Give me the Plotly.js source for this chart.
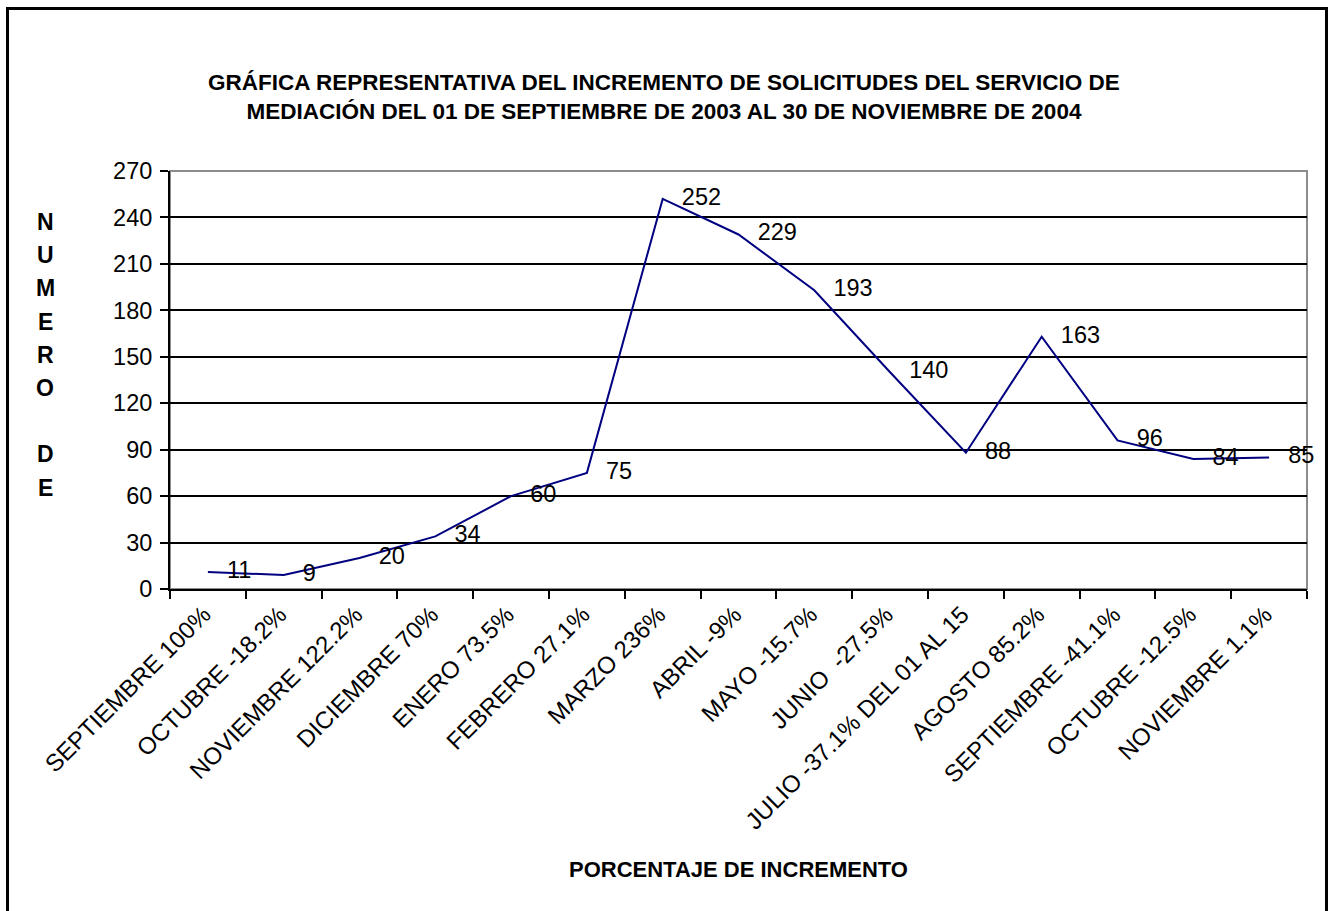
<!DOCTYPE html>
<html>
<head>
<meta charset="utf-8">
<script src="https://cdn.plot.ly/plotly-3.0.1.min.js"></script>
<style>
  html, body { margin: 0; padding: 0; background: #ffffff; }
  #wrap { position: relative; width: 1328px; height: 911px; overflow: hidden; }
  #chart { width: 1328px; height: 911px; }
  #frame { position: absolute; left: 6px; top: 7px; width: 1322px; height: 920px;
           border: 3px solid #000; pointer-events: none; box-sizing: border-box; }
</style>
</head>
<body>
<div id="wrap">
  <div id="chart"></div>
  <div id="frame"></div>
</div>
<script>
const categories = [
  'SEPTIEMBRE 100%', 'OCTUBRE -18.2%', 'NOVIEMBRE 122.2%', 'DICIEMBRE 70%',
  'ENERO 73.5%', 'FEBRERO 27.1%', 'MARZO 236%', 'ABRIL -9%', 'MAYO -15.7%',
  'JUNIO  -27.5%', 'JULIO -37.1% DEL 01 AL 15', 'AGOSTO 85.2%',
  'SEPTIEMBRE -41.1%', 'OCTUBRE -12.5%', 'NOVIEMBRE 1.1%'
];
const solicitudes = [11, 9, 20, 34, 60, 75, 252, 229, 193, 140, 88, 163, 96, 84, 85];
const yTicks = [0, 30, 60, 90, 120, 150, 180, 210, 240, 270];

const titleLines = [
  'GRÁFICA REPRESENTATIVA DEL INCREMENTO DE SOLICITUDES DEL SERVICIO DE',
  'MEDIACIÓN DEL 01 DE SEPTIEMBRE DE 2003 AL 30 DE NOVIEMBRE DE 2004'
];
const yTitleLetters = ['N', 'U', 'M', 'E', 'R', 'O', '', 'D', 'E'];
const xTitle = 'PORCENTAJE DE INCREMENTO';

const FONT = 'Liberation Sans, Arial, Helvetica, sans-serif';
const W = 1328, H = 911;
const M = { l: 170, r: 21, t: 171, b: 322 };
const plotH = H - M.t - M.b;
const plotW = W - M.l - M.r;

const annotations = [];
yTitleLetters.forEach((ch, i) => {
  if (!ch) return;
  const py = 222 + i * 33.2;  // pixel row of the letter centre
  annotations.push({
    text: '<b>' + ch + '</b>', xref: 'paper', yref: 'paper',
    x: (45 - M.l) / plotW, y: (H - M.b - py) / plotH,
    xanchor: 'center', yanchor: 'middle', showarrow: false,
    font: { family: FONT, size: 23, color: '#000' }
  });
});

const trace = {
  type: 'scatter',
  mode: 'lines+markers+text',
  x: categories,
  y: solicitudes,
  text: solicitudes.map(String),
  textposition: 'middle right',
  textfont: { family: FONT, size: 23.5, color: '#000' },
  line: { color: '#000080', width: 2 },
  marker: { size: 29, opacity: 0, color: '#000080' },
  cliponaxis: false,
  hoverinfo: 'x+y'
};

const layout = {
  width: W, height: H,
  margin: M,
  paper_bgcolor: 'rgba(0,0,0,0)',
  plot_bgcolor: '#ffffff',
  showlegend: false,
  title: {
    text: '<b>' + titleLines.join('<br>') + '</b>',
    font: { family: FONT, size: 22.5, color: '#000' },
    x: 0.5, xref: 'container', xanchor: 'center',
    y: 1 - 90 / H, yref: 'container', yanchor: 'middle'
  },
  xaxis: {
    type: 'category',
    tickson: 'boundaries',
    ticks: 'outside', ticklen: 8, tickwidth: 2, tickcolor: '#000',
    tickangle: -45,
    ticklabelshift: -4,
    tickfont: { family: FONT, size: 24, color: '#000' },
    showgrid: false, zeroline: false,
    showline: true, linecolor: '#000', linewidth: 2,
    range: [-0.5, categories.length - 0.5],
    automargin: false,
    title: { text: '<b>' + xTitle + '</b>', font: { family: FONT, size: 22, color: '#000' }, standoff: 28 }
  },
  yaxis: {
    range: [0, 270],
    tickvals: yTicks,
    ticktext: yTicks.map(String),
    ticks: 'outside', ticklen: 8, tickwidth: 2, tickcolor: '#000',
    tickfont: { family: FONT, size: 23.5, color: '#000' },
    ticklabelstandoff: 3,
    showgrid: true, gridcolor: '#000', gridwidth: 2,
    zeroline: false,
    showline: true, linecolor: '#000', linewidth: 2,
    automargin: false
  },
  shapes: [{
    type: 'rect', xref: 'paper', yref: 'paper', x0: 0, x1: 1, y0: 0, y1: 1,
    line: { color: '#8c8c8c', width: 2 }, layer: 'between'
  }],
  annotations: annotations
};

Plotly.newPlot('chart', [trace], layout, { displayModeBar: false, staticPlot: true });
</script>
</body>
</html>
